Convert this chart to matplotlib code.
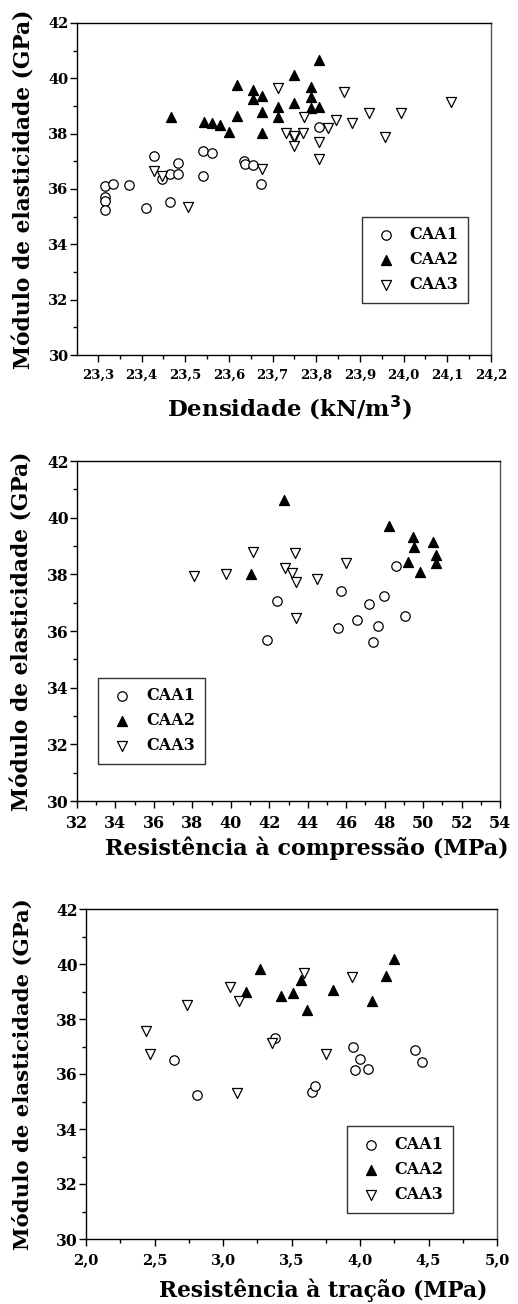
import matplotlib
matplotlib.use("Agg")
import matplotlib.pyplot as plt
from matplotlib.ticker import MultipleLocator, FuncFormatter

plt.rcParams['font.family'] = ['DejaVu Serif']
plt.rcParams['font.weight'] = 'bold'

series_names = ["CAA1", "CAA2", "CAA3"]

# Panel 1: Densidade (kN/m3) vs Modulo de elasticidade (GPa)
dens_caa1_x = [23.316, 23.316, 23.316, 23.316, 23.335, 23.372, 23.41, 23.429, 23.446, 23.465,
               23.465, 23.484, 23.484, 23.54, 23.56, 23.54, 23.635, 23.637, 23.656, 23.674, 23.805]
dens_caa1_y = [36.1, 35.72, 35.58, 35.24, 36.18, 36.15, 35.3, 37.2, 36.35, 36.53,
               35.54, 36.95, 36.53, 37.39, 37.29, 36.47, 37.02, 36.92, 36.87, 36.18, 38.25]
dens_caa2_x = [23.467, 23.542, 23.561, 23.58, 23.6, 23.618, 23.618, 23.656, 23.656, 23.675,
               23.675, 23.675, 23.712, 23.712, 23.75, 23.75, 23.807, 23.788, 23.788, 23.807, 23.788]
dens_caa2_y = [38.61, 38.43, 38.37, 38.31, 38.07, 39.76, 38.64, 39.58, 39.24, 39.36,
               38.8, 38.01, 38.95, 38.61, 40.12, 39.1, 40.66, 39.7, 39.34, 38.98, 38.92]
dens_caa3_x = [23.428, 23.446, 23.506, 23.675, 23.712, 23.731, 23.75, 23.75, 23.771, 23.75,
               23.769, 23.807, 23.807, 23.826, 23.845, 23.863, 23.882, 23.92, 23.995, 23.957, 24.109]
dens_caa3_y = [36.66, 36.47, 35.34, 36.71, 39.64, 38.01, 37.83, 37.57, 38.61, 37.92,
               38.04, 37.71, 37.08, 38.19, 38.49, 39.52, 38.4, 38.74, 38.76, 37.89, 39.16]

# Panel 2: Resistencia a compressao (MPa)
comp_caa1_x = [42.38, 41.86, 48.59, 45.73, 47.18, 47.96, 46.55, 45.56, 47.67, 49.06, 47.37]
comp_caa1_y = [37.07, 35.68, 38.28, 37.4, 36.95, 37.25, 36.4, 36.1, 36.16, 36.52, 35.62]
comp_caa2_x = [42.76, 41.03, 48.24, 49.49, 49.55, 50.5, 50.65, 50.65, 49.23, 49.84]
comp_caa2_y = [40.63, 38.01, 39.71, 39.33, 38.98, 39.13, 38.69, 38.4, 38.42, 38.07]
comp_caa3_x = [38.1, 39.73, 41.17, 42.82, 43.34, 43.2, 43.4, 43.38, 44.46, 45.99]
comp_caa3_y = [37.93, 38.01, 38.78, 38.22, 38.75, 38.05, 37.72, 36.46, 37.83, 38.4]

# Panel 3: Resistencia a tracao (MPa)
trac_caa1_x = [2.64, 2.81, 3.38, 3.65, 3.67, 3.95, 3.96, 4.0, 4.06, 4.4, 4.45]
trac_caa1_y = [36.52, 35.22, 37.3, 35.34, 35.58, 36.97, 36.16, 36.53, 36.2, 36.88, 36.45]
trac_caa2_x = [3.27, 3.17, 3.42, 3.51, 3.57, 3.61, 3.80, 4.09, 4.19, 4.25]
trac_caa2_y = [39.81, 38.97, 38.82, 38.94, 39.43, 38.31, 39.04, 38.66, 39.57, 40.18]
trac_caa3_x = [3.05, 3.12, 2.74, 2.44, 2.47, 3.36, 3.59, 3.94, 3.75, 3.10]
trac_caa3_y = [39.18, 38.64, 38.52, 37.58, 36.74, 37.13, 39.69, 39.52, 36.71, 35.32]

ylabel = "Módulo de elasticidade (GPa)"
xlabels = ["Densidade (kN/m$\\mathbf{^3}$)", "Resistência à compressão (MPa)", "Resistência à tração (MPa)"]

fig = plt.figure(figsize=(5.18, 13.04), dpi=100)

W, H = 518.0, 1304.0
def axes_px(l, r, t, b):
    return fig.add_axes([l / W, 1 - b / H, (r - l) / W, (b - t) / H])

ax1 = axes_px(77, 491, 23, 355)
ax2 = axes_px(77, 500, 461, 801)
ax3 = axes_px(86, 497, 909, 1239)

comma = FuncFormatter(lambda v, p: ("%.1f" % v).replace(".", ","))
intfmt = FuncFormatter(lambda v, p: "%d" % round(v))

def style(ax, xlim, xmaj, xmin, xfmt, xfs, yfs, xlabel, xlfs, xlpos, ylx, ylfs, legpos):
    ax.set_xlim(*xlim)
    ax.set_ylim(30, 42)
    ax.xaxis.set_major_locator(MultipleLocator(xmaj))
    ax.xaxis.set_minor_locator(MultipleLocator(xmin))
    ax.yaxis.set_major_locator(MultipleLocator(2))
    ax.yaxis.set_minor_locator(MultipleLocator(1))
    ax.xaxis.set_major_formatter(xfmt)
    ax.yaxis.set_major_formatter(intfmt)
    ax.tick_params(which='major', direction='out', length=5, width=1)
    ax.tick_params(which='minor', direction='out', length=3, width=1)
    ax.tick_params(axis='x', labelsize=xfs, pad=5)
    ax.tick_params(axis='y', labelsize=yfs, pad=1)
    for s in ax.spines.values():
        s.set_linewidth(1.0)
    ax.spines['right'].set_color('#555555')
    ax.set_ylabel(ylabel, fontsize=ylfs, fontweight='bold', va='center')
    ax.yaxis.set_label_coords(ylx, 0.5)
    ax.set_xlabel(xlabel, fontsize=xlfs, fontweight='bold', va='center')
    ax.xaxis.set_label_coords(*xlpos)
    leg = ax.legend(loc='upper left', bbox_to_anchor=legpos, borderaxespad=0,
                    fontsize=11.5, frameon=True, fancybox=False, edgecolor='black',
                    handlelength=1.8, handletextpad=0.6, borderpad=0.6,
                    labelspacing=0.5)
    leg.get_frame().set_linewidth(1.0)
    for t in leg.get_texts():
        t.set_fontweight('bold')

def draw(ax, data):
    (x1, y1), (x2, y2), (x3, y3) = data
    ms = 46
    ax.scatter(x1, y1, s=ms, marker='o', facecolors='white', edgecolors='black', linewidths=0.9, label=series_names[0], zorder=3)
    ax.scatter(x2, y2, s=ms + 6, marker='^', facecolors='black', edgecolors='black', linewidths=0.9, label=series_names[1], zorder=3)
    ax.scatter(x3, y3, s=ms + 6, marker='v', facecolors='white', edgecolors='black', linewidths=0.9, label=series_names[2], zorder=3)

draw(ax1, [(dens_caa1_x, dens_caa1_y), (dens_caa2_x, dens_caa2_y), (dens_caa3_x, dens_caa3_y)])
draw(ax2, [(comp_caa1_x, comp_caa1_y), (comp_caa2_x, comp_caa2_y), (comp_caa3_x, comp_caa3_y)])
draw(ax3, [(trac_caa1_x, trac_caa1_y), (trac_caa2_x, trac_caa2_y), (trac_caa3_x, trac_caa3_y)])

style(ax1, (23.252, 24.2), 0.1, 0.05, comma, 9.5, 10.5, xlabels[0], 16.5, (0.514, -0.160), -0.128, 15.7, (0.688, 0.416))
style(ax2, (32, 54), 2, 1, intfmt, 11.5, 11.2, xlabels[1], 16, (0.5426, -0.138), -0.13, 15.7, (0.05, 0.363))
style(ax3, (2.0, 5.0), 0.5, 0.25, comma, 10.5, 11.2, xlabels[2], 15.7, (0.578, -0.1545), -0.153, 15.3, (0.634, 0.341))

fig.savefig("out.png", dpi=100)
